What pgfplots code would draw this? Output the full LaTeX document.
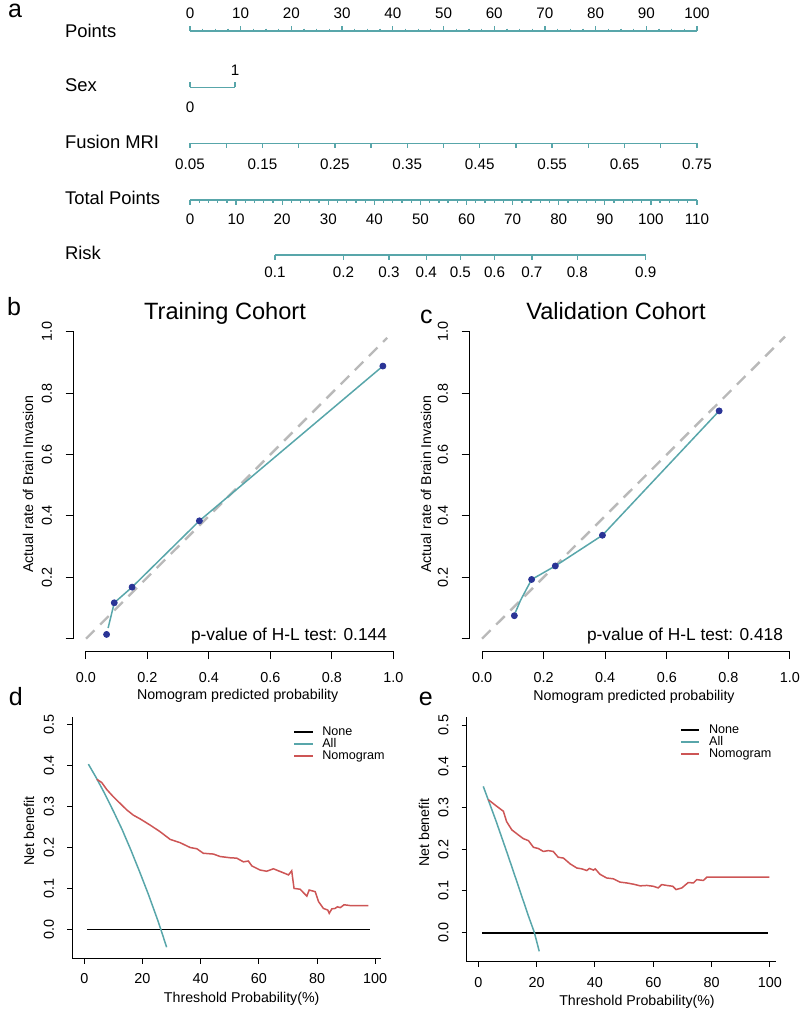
\documentclass[border=0pt]{standalone}
\usepackage{fontspec}
\setmainfont{Liberation Sans}
\usepackage{pgfplots}
\pgfplotsset{compat=1.18}

\definecolor{tealc}{RGB}{88,166,170}
\definecolor{redc}{RGB}{205,85,85}
\definecolor{ptblue}{RGB}{42,52,150}
\definecolor{dashgray}{RGB}{185,185,185}

\newcommand\fs[1]{\fontsize{#1}{#1}\selectfont}

\pgfplotsset{
  every non boxed x axis/.style={},
  every non boxed y axis/.style={},
  % one nomogram scale = one bare x axis
  nomo/.style={scale only axis, height=4pt, ymin=0, ymax=1, width=253.5pt,
    axis y line=none, enlargelimits=false, clip=false,
    axis line style={tealc, line width=0.65pt},
    every tick/.style={tealc, line width=0.65pt},
    tick align=outside, major tick length=2.4pt, minor tick length=1.2pt,
    ticklabel style={font=\fs{7.6}},
    /pgf/number format/assume math mode=true},
  % calibration curves, R-style detached axes (plot region -0.04..1.04)
  cal/.style={scale only axis, height=165.8pt,
    xmin=-0.04, xmax=1.04, ymin=-0.04, ymax=1.04, enlargelimits=false, clip=false,
    axis x line=bottom, axis y line=left, axis line style={draw=none},
    tick align=outside, major tick length=4pt,
    xtick={0,0.2,0.4,0.6,0.8,1}, ytick={0,0.2,0.4,0.6,0.8,1},
    xticklabels={0.0,0.2,0.4,0.6,0.8,1.0}, yticklabels={,0.2,0.4,0.6,0.8,1.0},
    yticklabel style={rotate=90, anchor=south},
    xticklabel shift=3pt, yticklabel shift=3.3pt,
    ticklabel style={font=\fs{7.2}},
    every tick/.style={black, line width=0.5pt}},
  % decision curves
  dca/.style={scale only axis, ymin=-0.071, ymax=0.52, enlargelimits=false,
    axis x line=bottom, axis y line=left,
    tick align=outside, major tick length=2.6pt,
    xtick={0,20,40,60,80,100}, ytick={0,0.1,0.2,0.3,0.4,0.5},
    yticklabels={0.0,0.1,0.2,0.3,0.4,0.5},
    yticklabel style={rotate=90, anchor=south},
    xticklabel shift=1.6pt, yticklabel shift=3pt,
    ticklabel style={font=\fs{7.2}},
    /pgf/number format/assume math mode=true,
    axis line style={line width=0.5pt},
    every tick/.style={black, line width=0.5pt},
    every axis plot/.append style={line width=0.75pt},
    legend cell align=left,
    legend style={draw=none, fill=none, font=\fs{6.3}, inner sep=0pt, outer sep=0pt,
      row sep=0pt, column sep=4.5pt,
      nodes={inner sep=0pt, text height=4.6pt, text depth=1.4pt}},
    legend image code/.code={\draw[#1, line width=0.8pt] (0pt,0pt) -- (9.2pt,0pt);}},
}

\begin{document}
\begin{tikzpicture}[x=0.5pt, y=-0.5pt]
\path[use as bounding box] (0,0) rectangle (800,1010);

% ---------------- a: nomogram ----------------
\node[anchor=base west, font=\fs{12.5}] at (1,18) {a};
\node[anchor=base west, font=\fs{9.2}] at (58,37.3) {Points};
\node[anchor=base west, font=\fs{9.2}] at (58,91.7) {Sex};
\node[anchor=base west, font=\fs{9.2}] at (58,148.3) {Fusion MRI};
\node[anchor=base west, font=\fs{9.2}] at (58,205) {Total Points};
\node[anchor=base west, font=\fs{9.2}] at (58,260) {Risk};

\begin{axis}[nomo, at={(95pt,-15.5pt)}, anchor=north west,
  axis x line=top, xmin=0, xmax=100, xtick={0,10,...,100}, minor x tick num=3]
\end{axis}

\begin{axis}[nomo, at={(95pt,-43.65pt)}, anchor=north west, width=22.5pt,
  axis x line=top, xmin=0, xmax=1, xtick={0,1}, xticklabels={,1}]
\end{axis}
\node[font=\fs{7.6}] at (190,107) {0};

\begin{axis}[nomo, at={(95pt,-71.65pt)}, anchor=south west,
  axis x line=bottom, xmin=0.05, xmax=0.75, major tick length=2.2pt,
  xticklabel shift=2pt,
  xtick={0.05,0.1,0.15,0.2,0.25,0.3,0.35,0.4,0.45,0.5,0.55,0.6,0.65,0.7,0.75},
  xticklabels={0.05,,0.15,,0.25,,0.35,,0.45,,0.55,,0.65,,0.75}]
\end{axis}

\begin{axis}[nomo, at={(95pt,-100pt)}, anchor=south west,
  axis x line=bottom, xmin=0, xmax=110, xtick={0,10,...,110}, minor x tick num=4,
  major tick length=2.5pt, minor tick length=1.3pt, xticklabel shift=0.8pt]
\end{axis}

\begin{axis}[nomo, at={(137.5pt,-127.5pt)}, anchor=south west, width=185.35pt,
  axis x line=bottom, xmin=18.44, xmax=98.87, major tick length=2.3pt,
  xtick={18.44,33.29,43.15,51.24,58.66,66.08,74.17,84.03,98.87},
  xticklabels={0.1,0.2,0.3,0.4,0.5,0.6,0.7,0.8,0.9}]
\end{axis}

% ---------------- b: training calibration ----------------
\node[anchor=base west, font=\fs{12.5}] at (0,315) {b};
\node[anchor=base, font=\fs{11.8}] at (225,319.3) {Training Cohort};
\node[rotate=90, font=\fs{7.1}] at (28,484) {Actual rate of Brain Invasion};
\node[font=\fs{7.1}] at (237.7,696) {Nomogram predicted probability};
\node[anchor=base east, font=\fs{8.65}] at (394,640) {p-value of H-L test: 0.144};

\begin{axis}[cal, at={(36.85pt,-325.5pt)}, anchor=south west, width=165.95pt]
\draw[line width=0.5pt] (axis cs:0,-0.04) -- (axis cs:1,-0.04);
\draw[line width=0.5pt] (axis cs:-0.04,0) -- (axis cs:-0.04,1);
\addplot[dashgray, line width=1.2pt, dash pattern=on 6pt off 4pt] coordinates {(0,0) (0.98,0.98)};
\addplot[tealc, line width=0.75pt] coordinates {(0.072,0.035) (0.092,0.117) (0.150,0.168) (0.369,0.384) (0.966,0.888)};
\addplot[only marks, mark=*, mark size=1.5pt, ptblue] coordinates {(0.067,0.014) (0.092,0.117) (0.150,0.168) (0.369,0.384) (0.966,0.888)};
\end{axis}

% ---------------- c: validation calibration ----------------
\node[anchor=base west, font=\fs{12.5}] at (413,323.3) {c};
\node[anchor=base, font=\fs{11.8}] at (616,319.3) {Validation Cohort};
\node[rotate=90, font=\fs{7.1}] at (426,484) {Actual rate of Brain Invasion};
\node[font=\fs{7.1}] at (634,697) {Nomogram predicted probability};
\node[anchor=base east, font=\fs{8.65}] at (790,640) {p-value of H-L test: 0.418};

\begin{axis}[cal, at={(234.85pt,-325.5pt)}, anchor=south west, width=166.3pt]
\draw[line width=0.5pt] (axis cs:0,-0.04) -- (axis cs:1,-0.04);
\draw[line width=0.5pt] (axis cs:-0.04,0) -- (axis cs:-0.04,1);
\addplot[dashgray, line width=1.2pt, dash pattern=on 6pt off 4pt] coordinates {(0,0) (0.984,0.984)};
\addplot[tealc, line width=0.75pt] coordinates {(0.108,0.085) (0.125,0.125) (0.161,0.193) (0.238,0.237) (0.391,0.337) (0.770,0.742)};
\addplot[only marks, mark=*, mark size=1.5pt, ptblue] coordinates {(0.105,0.075) (0.161,0.193) (0.238,0.237) (0.391,0.337) (0.770,0.742)};
\end{axis}

% ---------------- d: training decision curve ----------------
\node[anchor=base west, font=\fs{12.5}] at (1.7,705) {d};
\node[rotate=90, font=\fs{7.1}] at (29,831) {Net benefit};
\node[font=\fs{7.1}] at (241.7,999) {Threshold Probability(\%)};

\begin{axis}[dca, at={(36.15pt,-479.15pt)}, anchor=south west, width=154.35pt, height=120.8pt,
  xmin=-4.13, xmax=102, legend style={at={(0.716,0.961)}, anchor=north west}]
\addplot[black] coordinates {(1,0) (98.3,0)};
\addlegendentry{None}
\addplot[tealc] coordinates {(1.4,0.404) (4,0.372) (7,0.332) (10,0.289) (13,0.244) (16,0.194) (19,0.141) (22,0.086) (25,0.027) (26.3,0) (28.3,-0.044)};
\addlegendentry{All}
\addplot[redc] coordinates {(4.3,0.367) (6.0,0.359) (7.7,0.342) (10.0,0.324) (12.3,0.308) (14.6,0.292) (16.9,0.279) (19.2,0.270) (22.6,0.255) (26.0,0.239) (29.5,0.220) (32.9,0.212) (36.4,0.200) (38.7,0.197) (40.9,0.186) (44.4,0.184) (46.7,0.178) (50.1,0.175) (52.4,0.174) (54.7,0.165) (56.4,0.167) (57.6,0.155) (60.4,0.145) (62.7,0.142) (65.0,0.148) (68.5,0.138) (70.2,0.133) (71.3,0.143) (72.1,0.100) (74.2,0.098) (76.5,0.081) (77.3,0.096) (79.4,0.092) (80.5,0.068) (82.2,0.051) (83.7,0.047) (84.2,0.039) (85.1,0.050) (86.2,0.051) (87.0,0.055) (88.0,0.053) (89.3,0.060) (91.4,0.058) (97.7,0.058)};
\addlegendentry{Nomogram}
\end{axis}

% ---------------- e: validation decision curve ----------------
\node[anchor=base west, font=\fs{12.5}] at (411.7,705) {e};
\node[rotate=90, font=\fs{7.1}] at (424,832.5) {Net benefit};
\node[font=\fs{7.1}] at (637,1002) {Threshold Probability(\%)};

\begin{axis}[dca, at={(233.35pt,-480.85pt)}, anchor=south west, width=154.65pt, height=122.5pt,
  xmin=-3.98, xmax=102.1, legend style={at={(0.690,0.970)}, anchor=north west}]
\addplot[black] coordinates {(1.2,-0.002) (99.5,-0.002)};
\addlegendentry{None}
\addplot[tealc] coordinates {(1.7,0.352) (6,0.270) (10,0.189) (14,0.106) (17,0.043) (19.2,0) (20.9,-0.046)};
\addlegendentry{All}
\addplot[redc] coordinates {(3.4,0.320) (6.3,0.304) (8.6,0.292) (9.7,0.267) (11.5,0.247) (13.7,0.235) (15.4,0.226) (17.2,0.221) (18.9,0.205) (20.6,0.202) (22.3,0.195) (24.0,0.197) (25.7,0.195) (27.4,0.181) (29.2,0.179) (31.5,0.165) (33.8,0.155) (35.5,0.153) (37.2,0.149) (38.1,0.154) (39.5,0.150) (40.1,0.153) (41.7,0.140) (44.0,0.131) (46.3,0.129) (48.6,0.121) (50.9,0.119) (53.2,0.116) (55.5,0.112) (57.8,0.113) (60.0,0.111) (61.7,0.107) (62.9,0.115) (64.6,0.113) (66.7,0.111) (67.8,0.103) (69.8,0.107) (72.0,0.120) (73.8,0.119) (74.9,0.127) (77.2,0.125) (78.4,0.133) (79.5,0.133) (99.8,0.133)};
\addlegendentry{Nomogram}
\end{axis}
\end{tikzpicture}
\end{document}
